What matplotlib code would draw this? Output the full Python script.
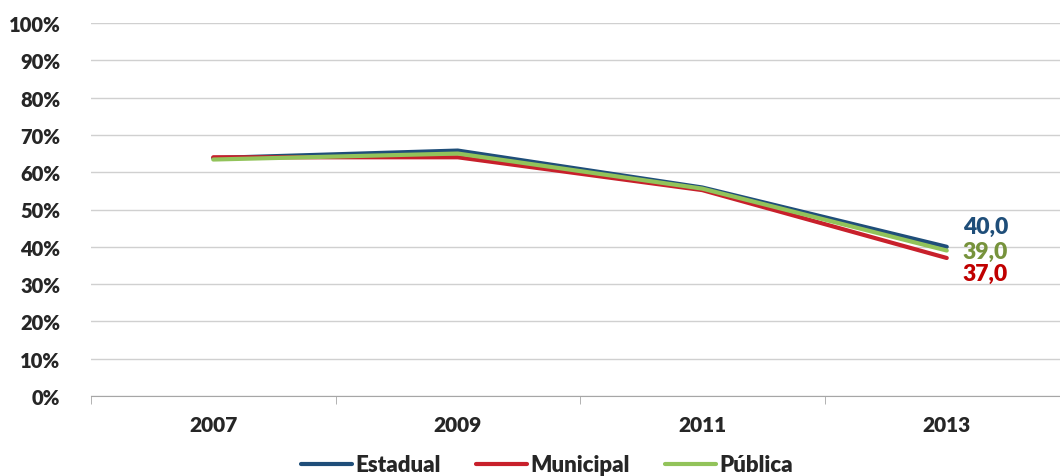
import numpy as np
import matplotlib
matplotlib.use("Agg")
import matplotlib.pyplot as plt
from matplotlib.ticker import FixedLocator, FuncFormatter

years = ["2007", "2009", "2011", "2013"]
estadual = [63.8, 65.8, 55.9, 40.0]
municipal = [64.0, 64.0, 55.2, 37.0]
publica = [63.4, 65.0, 55.6, 39.0]

series = [
    ("Estadual", estadual, "#1F4E79", "#1F4E79", 20),
    ("Municipal", municipal, "#C8202B", "#C00000", -15),
    ("Pública", publica, "#92C35A", "#77933C", -1),
]

W = "heavy"
plt.rcParams["font.family"] = ["Lato", "DejaVu Sans"]
plt.rcParams["font.weight"] = W

fig = plt.figure(figsize=(10.6, 4.77), dpi=100)
ax = fig.add_axes([91 / 1060, 80 / 477, 978 / 1060, 373 / 477])

x = np.arange(len(years))
for name, vals, col, lcol, dy in series:
    ax.plot(x, vals, color=col, lw=3, label=name, solid_capstyle="round")
    ax.annotate(("%.1f" % vals[-1]).replace(".", ","),
                xy=(x[-1], vals[-1]), xytext=(16, dy), textcoords="offset pixels",
                ha="left", va="center", color=lcol, fontsize=16.5, fontweight=W)

ax.set_xlim(-0.5, len(years) - 0.5)
ax.set_ylim(0, 100)
ax.set_yticks(np.arange(0, 101, 10))
ax.yaxis.set_major_formatter(FuncFormatter(lambda v, p: "%d%%" % v))
ax.set_xticks(x)
ax.set_xticklabels(years)
ax.xaxis.set_minor_locator(FixedLocator(np.arange(-0.5, len(years), 1.0)))
ax.tick_params(axis="x", which="major", length=0, pad=14, labelsize=15)
ax.tick_params(axis="x", which="minor", length=6, color="#A6A6A6")
ax.tick_params(axis="y", length=0, pad=22, labelsize=14.5)
for lab in ax.get_xticklabels() + ax.get_yticklabels():
    lab.set_fontweight(W)
    lab.set_color("#262626")

ax.grid(axis="y", color="#D0D0D0", lw=1)
ax.set_axisbelow(True)
for s in ["top", "right", "left"]:
    ax.spines[s].set_visible(False)
ax.spines["bottom"].set_color("#A6A6A6")

leg = fig.legend(loc="center", bbox_to_anchor=(547 / 1060, 1 - 466 / 477), ncol=3,
                 frameon=False, handlelength=2.3, handletextpad=0.15, columnspacing=1.6,
                 prop={"size": 16, "weight": W})
for t in leg.get_texts():
    t.set_color("#262626")

fig.savefig("out.png", dpi=100)
